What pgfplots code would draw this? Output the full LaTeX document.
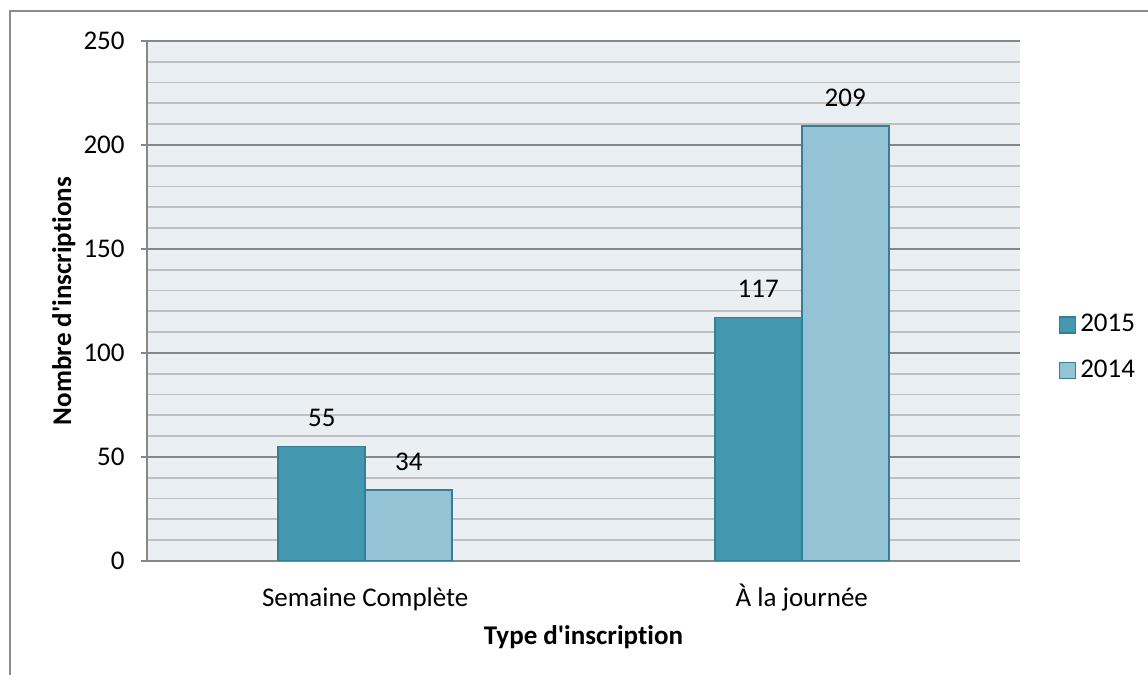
\documentclass[border=0pt]{standalone}
\usepackage{fontspec}
\setmainfont{Carlito}[Ligatures=NoCommon]
\usepackage{pgfplots}
\pgfplotsset{compat=1.18}
\definecolor{darkbar}{HTML}{4398B0}
\definecolor{lightbar}{HTML}{93C3D4}
\definecolor{barline}{HTML}{337F95}
\definecolor{plotbg}{HTML}{E9EFF3}
\definecolor{majgrid}{HTML}{878787}
\definecolor{mingrid}{HTML}{BFBFBF}
\definecolor{frame}{HTML}{8C8C8C}
\begin{document}
\fontsize{13.5pt}{16pt}\selectfont
\begin{tikzpicture}
\begin{axis}[
  scale only axis,
  width=436.5pt, height=260pt,
  ybar=0pt, bar width=43.5pt,
  xmin=-0.5, xmax=1.5,
  ymin=0, ymax=250,
  xtick={0,1},
  xticklabels={Semaine Complète, À la journée},
  ytick={0,50,100,150,200,250},
  minor y tick num=4,
  axis x line*=bottom,
  axis y line*=left,
  axis line style={majgrid, line width=0.9pt},
  x axis line style={-},
  y axis line style={-},
  ymajorgrids, yminorgrids,
  major grid style={majgrid, line width=0.9pt},
  minor grid style={mingrid, line width=0.9pt},
  axis background/.style={fill=plotbg},
  tick align=outside,
  major tick length=3pt,
  minor tick length=0pt,
  xtick style={draw=none},
  ytick style={majgrid, line width=0.9pt},
  /pgf/number format/assume math mode=true,
  tick label style={font=\fontsize{13.5pt}{16pt}\selectfont},
  yticklabel style={xshift=-3.5pt},
  xticklabel style={anchor=base, yshift=-20pt},
  xlabel={Type d\textquotesingle inscription},
  ylabel={Nombre d\textquotesingle inscriptions},
  label style={font=\fontsize{13.5pt}{16pt}\selectfont\bfseries},
  xlabel style={at={(axis description cs:0.5,-0.16)}, anchor=base},
  ylabel style={at={(axis description cs:-0.087,0.5)}, anchor=base},
  nodes near coords,
  nodes near coords style={font=\fontsize{13.5pt}{16pt}\selectfont, anchor=south, yshift=5pt},
  legend style={draw=none, fill=none, at={(1.037,0.41)}, anchor=west,
    font=\fontsize{13.5pt}{16pt}\selectfont, row sep=8pt,
    legend cell align=left},
  legend image code/.code={\draw[#1] (0pt,-4pt) rectangle (8pt,4pt);},
]
\addplot[fill=darkbar, draw=barline, line width=0.8pt] coordinates {(0,55) (1,117)};
\addplot[fill=lightbar, draw=barline, line width=0.8pt] coordinates {(0,34) (1,209)};
\legend{2015,2014}
\end{axis}
\draw[frame, line width=1pt] ([shift={(-68.5pt,-57pt)}]current axis.south west) -- ([shift={(-68.5pt,275pt)}]current axis.south west) -- ([shift={(500.5pt,275pt)}]current axis.south west);
\pgfresetboundingbox
\useasboundingbox ([shift={(-73.5pt,-57pt)}]current axis.south west) rectangle ([shift={(500.5pt,280.5pt)}]current axis.south west);
\end{tikzpicture}
\end{document}
